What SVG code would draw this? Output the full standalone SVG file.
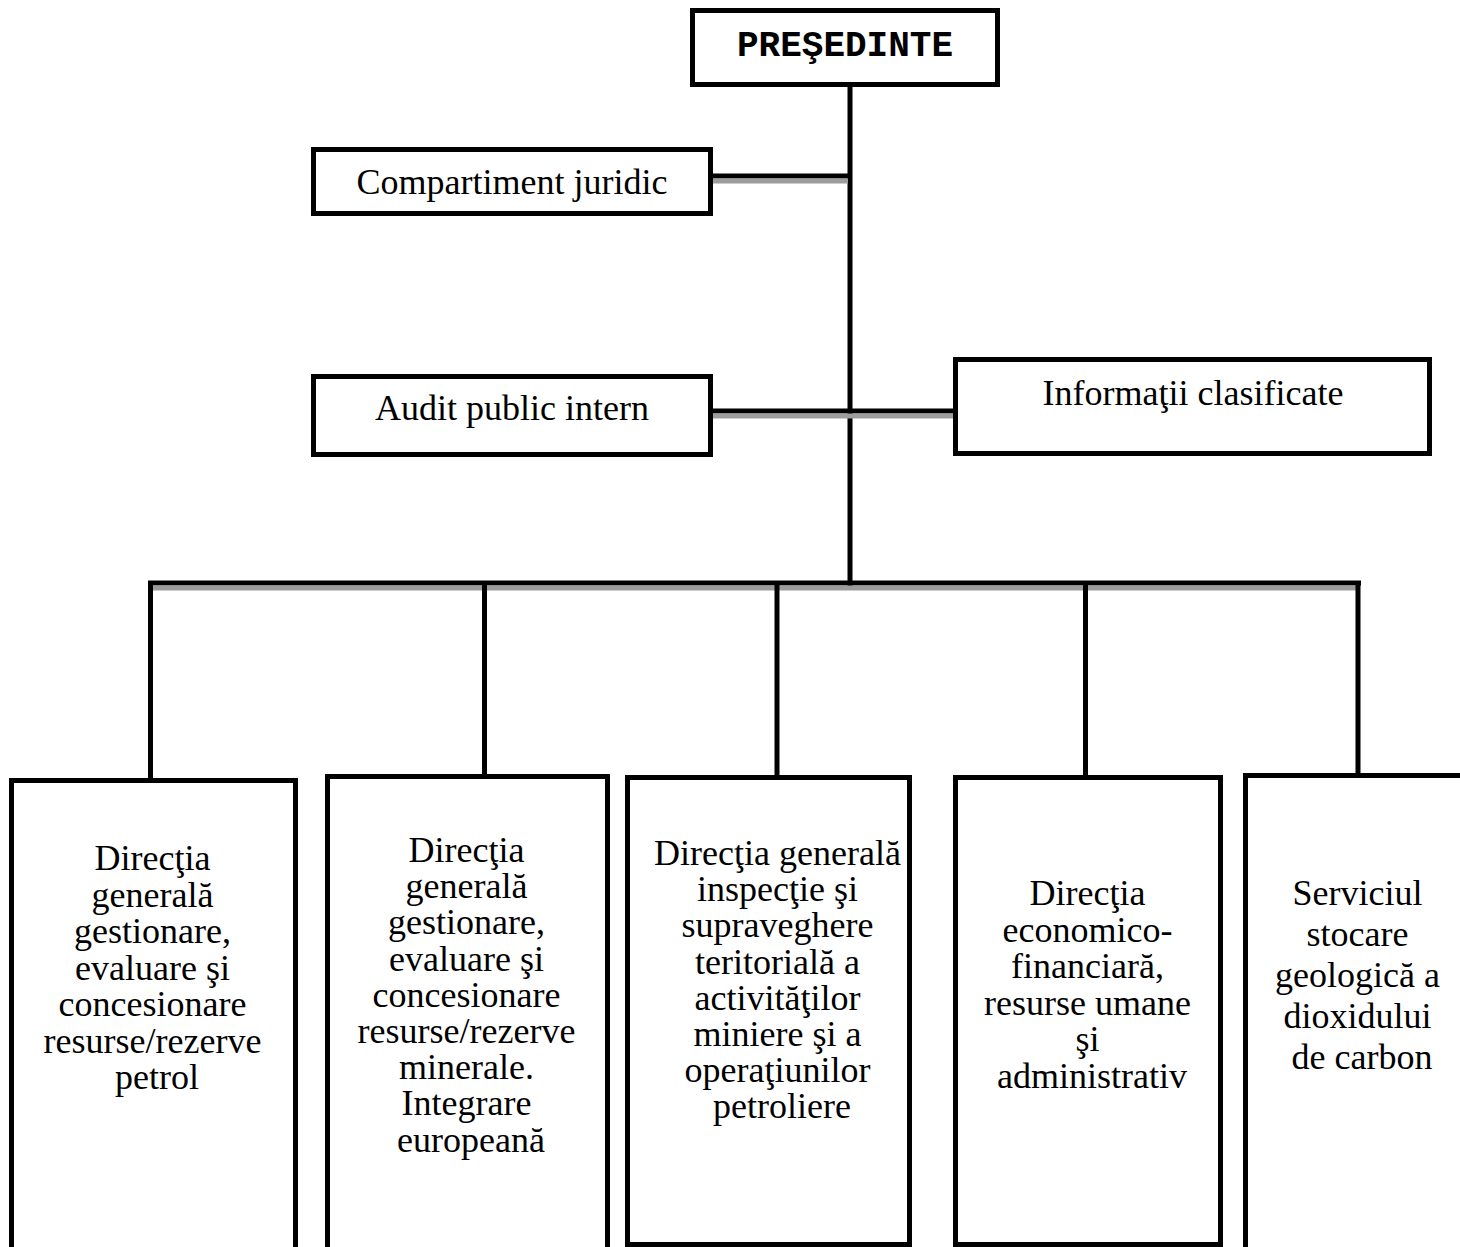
<svg xmlns="http://www.w3.org/2000/svg" width="1460" height="1247" viewBox="0 0 1460 1247">
<style>
.box{fill:#fff;stroke:#000;stroke-width:5}
.t{font-family:"Liberation Serif","Times New Roman",serif;font-size:36px;fill:#000;text-anchor:middle}
.m{font-family:"Liberation Mono","Courier New",monospace;font-size:36px;font-weight:bold;fill:#000;text-anchor:middle}
.ln{stroke:#000;stroke-width:5;fill:none}
.sh{fill:#9c9c9c}
</style>
<rect width="1460" height="1247" fill="#fff"/>
<g id="connectors">
<line class="ln" x1="850" y1="85" x2="850" y2="586"/>
<line class="ln" x1="711" y1="176" x2="850" y2="176"/>
<rect class="sh" x="713" y="178.5" width="135" height="5"/>
<line class="ln" x1="711" y1="411" x2="957" y2="411"/>
<rect class="sh" x="713" y="413.5" width="240" height="5"/>
<line class="ln" x1="148" y1="583" x2="1361" y2="583"/>
<rect class="sh" x="153" y="585.5" width="1203" height="5"/>
<line class="ln" x1="150.5" y1="581" x2="150.5" y2="780"/>
<line class="ln" x1="484.5" y1="583" x2="484.5" y2="776"/>
<line class="ln" x1="777" y1="583" x2="777" y2="777"/>
<line class="ln" x1="1085.5" y1="583" x2="1085.5" y2="777"/>
<line class="ln" x1="1358" y1="581" x2="1358" y2="775"/>
</g>
<g id="presedinte">
<rect class="box" x="692.5" y="10.5" width="305" height="74"/>
<text class="m" x="845" y="56">PREŞEDINTE</text>
</g>
<g id="compartiment-juridic">
<rect class="box" x="313.5" y="149.5" width="397" height="64"/>
<text class="t" x="512" y="194">Compartiment juridic</text>
</g>
<g id="audit-public-intern">
<rect class="box" x="313.5" y="376.5" width="397" height="78"/>
<text class="t" x="512" y="420">Audit public intern</text>
</g>
<g id="informatii-clasificate">
<rect class="box" x="955.5" y="359.5" width="474" height="94"/>
<text class="t" x="1193" y="405">Informaţii clasificate</text>
</g>
<g id="dir-petrol">
<rect class="box" x="11.5" y="780.5" width="284" height="500"/>
<text class="t" x="157" y="870">
<tspan x="157" dy="0">Direcţia</tspan>
<tspan x="157" dy="36.5">generală</tspan>
<tspan x="157" dy="36.5">gestionare,</tspan>
<tspan x="157" dy="36.5">evaluare şi</tspan>
<tspan x="157" dy="36.5">concesionare</tspan>
<tspan x="157" dy="36.5">resurse/rezerve</tspan>
<tspan x="157" dy="36.5">petrol</tspan>
</text>
</g>
<g id="dir-minerale">
<rect class="box" x="327.5" y="776.5" width="280" height="500"/>
<text class="t" x="471" y="862">
<tspan x="471" dy="0">Direcţia</tspan>
<tspan x="471" dy="36.2">generală</tspan>
<tspan x="471" dy="36.2">gestionare,</tspan>
<tspan x="471" dy="36.2">evaluare şi</tspan>
<tspan x="471" dy="36.2">concesionare</tspan>
<tspan x="471" dy="36.2">resurse/rezerve</tspan>
<tspan x="471" dy="36.2">minerale.</tspan>
<tspan x="471" dy="36.2">Integrare</tspan>
<tspan x="471" dy="36.2">europeană</tspan>
</text>
</g>
<g id="dir-inspectie">
<rect class="box" x="627.5" y="777.5" width="282" height="467"/>
<text class="t" x="782" y="865">
<tspan x="782" dy="0">Direcţia generală</tspan>
<tspan x="782" dy="36.2">inspecţie şi</tspan>
<tspan x="782" dy="36.2">supraveghere</tspan>
<tspan x="782" dy="36.2">teritorială a</tspan>
<tspan x="782" dy="36.2">activităţilor</tspan>
<tspan x="782" dy="36.2">miniere şi a</tspan>
<tspan x="782" dy="36.2">operaţiunilor</tspan>
<tspan x="782" dy="36.2">petroliere</tspan>
</text>
</g>
<g id="dir-economico">
<rect class="box" x="955.5" y="777.5" width="265" height="467"/>
<text class="t" x="1092" y="905">
<tspan x="1092" dy="0">Direcţia</tspan>
<tspan x="1092" dy="36.6">economico-</tspan>
<tspan x="1092" dy="36.6">financiară,</tspan>
<tspan x="1092" dy="36.6">resurse umane</tspan>
<tspan x="1092" dy="36.6">şi</tspan>
<tspan x="1092" dy="36.6">administrativ</tspan>
</text>
</g>
<g id="serviciul-stocare">
<rect class="box" x="1245.5" y="775.5" width="300" height="500"/>
<text class="t" x="1362" y="905">
<tspan x="1362" dy="0">Serviciul</tspan>
<tspan x="1362" dy="41">stocare</tspan>
<tspan x="1362" dy="41">geologică a</tspan>
<tspan x="1362" dy="41">dioxidului</tspan>
<tspan x="1362" dy="41">de carbon</tspan>
</text>
</g>
</svg>
